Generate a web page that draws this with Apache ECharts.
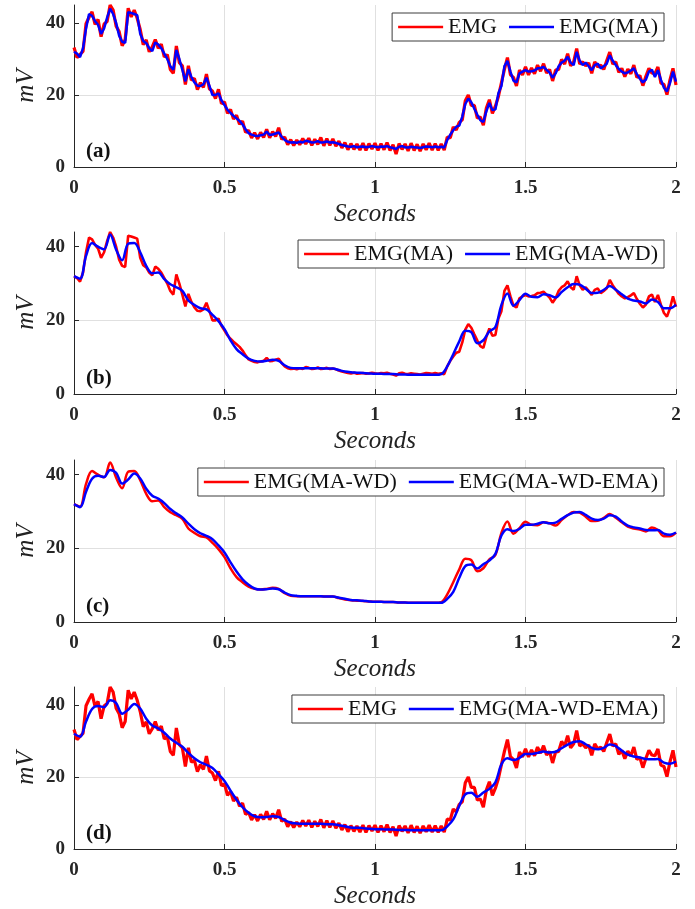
<!DOCTYPE html>
<html>
<head>
<meta charset="utf-8">
<script src="https://cdn.jsdelivr.net/npm/echarts@6/dist/echarts.min.js"></script>
<style>
  html, body { margin: 0; padding: 0; background: #fff; }
  .panel { position: absolute; left: 0; width: 695px; height: 227px; }
</style>
</head>
<body>
<div id="pa" class="panel" style="top:0"></div>
<div id="pb" class="panel" style="top:227px"></div>
<div id="pc" class="panel" style="top:455px"></div>
<div id="pd" class="panel" style="top:682px"></div>
<script>
// raw EMG, sampled every 0.01 s (0 .. 2 s)
const emg = [
  33.2, 30.4, 31.3, 32.1, 39.8, 41.6, 43.1, 39.6, 41.0, 36.2,
  39.7, 40.4, 45.0, 43.6, 39.1, 37.6, 33.7, 35.4, 44.1, 41.7,
  43.6, 41.3, 38.2, 34.0, 35.3, 32.0, 33.4, 35.4, 33.0, 34.1,
  30.6, 31.2, 27.1, 26.0, 33.6, 29.0, 28.1, 22.9, 28.1, 24.1,
  24.6, 21.5, 23.4, 22.1, 25.8, 21.7, 21.1, 19.0, 21.6, 17.6,
  18.1, 14.9, 16.0, 13.3, 14.4, 11.9, 12.7, 9.6, 10.2, 8.1,
  9.5, 7.8, 9.6, 8.2, 10.5, 8.1, 9.8, 8.5, 10.9, 7.7,
  8.3, 6.2, 7.6, 6.0, 7.5, 6.2, 7.9, 6.4, 8.0, 6.0,
  7.7, 6.3, 8.2, 5.9, 7.9, 6.0, 7.8, 5.8, 7.2, 5.3,
  6.8, 4.8, 6.5, 4.9, 6.4, 4.7, 6.6, 4.6, 6.5, 5.0,
  6.6, 4.6, 6.5, 4.8, 6.8, 4.6, 6.2, 3.6, 6.5, 4.9,
  6.4, 4.5, 6.6, 4.6, 6.3, 4.4, 6.4, 4.8, 6.6, 4.7,
  6.5, 4.6, 6.4, 4.7, 8.3, 8.1, 11.1, 10.3, 12.4, 13.1,
  18.4, 20.0, 17.1, 17.1, 13.6, 13.9, 11.6, 16.4, 18.7, 14.9,
  16.9, 19.6, 23.4, 27.1, 30.4, 25.6, 24.9, 22.5, 26.9, 25.6,
  27.8, 25.6, 27.5, 25.9, 28.3, 26.6, 28.7, 26.1, 27.1, 23.9,
  26.9, 27.1, 29.9, 28.6, 31.5, 28.1, 29.2, 32.9, 28.6, 29.2,
  28.1, 28.9, 26.0, 29.2, 27.8, 28.3, 27.1, 29.6, 31.9, 28.6,
  29.2, 26.3, 27.4, 25.1, 27.2, 25.9, 28.3, 24.9, 25.4, 22.6,
  25.2, 27.4, 26.1, 25.9, 27.8, 23.3, 22.9, 20.1, 24.2, 27.4,
  22.8
]

// moving average, every 0.01 s
const emgMA = [
  32, 31.5, 30.5, 33, 38.5, 42.5, 42, 40.5, 39.5, 37,
  38.5, 41.5, 44, 42.5, 40, 36.5, 34.8, 34.5, 43, 42.8,
  42.5, 42.2, 37, 35, 34.4, 33, 32.2, 34.6, 34, 33,
  31.5, 30, 28, 27, 32.5, 30, 27, 23.8, 27.2, 25,
  23.5, 22.6, 22.5, 23, 24.8, 22.5, 20, 20, 20.5, 18.5,
  17.2, 15.9, 15, 14.2, 13.5, 12.8, 11.8, 10.5, 9.4, 9,
  8.7, 8.6, 8.8, 9, 9.8, 8.9, 9, 9.3, 9.6, 8.4,
  7.5, 7, 6.8, 6.9, 6.7, 7, 6.8, 7.3, 7.1, 6.8,
  6.9, 7.2, 6.8, 6.9, 7.1, 6.8, 6.9, 6.7, 6.4, 6.1,
  5.9, 5.7, 5.6, 5.8, 5.5, 5.6, 5.7, 5.5, 5.6, 5.8,
  5.6, 5.5, 5.7, 5.6, 5.8, 5.5, 5.3, 5.0, 5.6, 5.8,
  5.5, 5.4, 5.6, 5.5, 5.4, 5.3, 5.5, 5.7, 5.6, 5.5,
  5.7, 5.5, 5.6, 5.4, 7.5, 9, 10.2, 11.2, 11.5, 14,
  17.5, 19, 18, 16.2, 14.5, 13, 12.5, 15.5, 17.8, 15.8,
  16, 20.5, 22.5, 28, 29.5, 26.5, 24, 23.5, 26, 26.5,
  26.9, 26.5, 26.6, 26.8, 27.4, 27.5, 27.8, 27, 26.2, 24.8,
  26, 28, 29, 29.5, 30.6, 29, 28.3, 32, 29.5, 28.3,
  29, 28, 26.9, 28.3, 28.7, 27.4, 28, 28.7, 31, 29.5,
  28.3, 27.2, 26.5, 26, 26.3, 26.8, 27.4, 25.8, 24.5, 23.5,
  24.3, 26.5, 27, 25, 26.9, 24.2, 22, 21, 23.3, 26.5,
  23.7
]

// MA + wavelet denoising, every 0.02 s
const emgWD = [
  32, 31.3, 37.5, 41, 40, 39.3, 43.3, 39.2, 36.3, 40.8,
  41, 38.5, 34.8, 32.8, 33, 31.2, 29.8, 29, 28, 25.4,
  24.2, 23.3, 23, 21.5, 19.8, 17.6, 14.6, 12.2, 10.8, 9.6,
  9, 8.8, 9, 9.3, 9, 7.8, 7.1, 7, 7, 7,
  7, 7, 6.9, 6.9, 6.5, 6.1, 5.9, 5.8, 5.7, 5.6,
  5.5, 5.5, 5.4, 5.4, 5.3, 5.3, 5.2, 5.2, 5.2, 5.2,
  5.2, 5.4, 7.5, 10.8, 14.3, 17.2, 16.8, 13.8, 14.6, 17,
  18.2, 24.2, 27.3, 24, 25.5, 27.2, 26.4, 26.3, 27.1, 26.8,
  26.2, 27.7, 29, 29.9, 29.7, 28.6, 27.4, 27.5, 28.3, 29.3,
  28.3, 27.1, 25.9, 25.4, 25.1, 24.6, 25.7, 25, 23.3, 23.3,
  24.3
]

// MA + WD + exponential moving average, every 0.02 s
const emgEMA = [
  32, 31.2, 35.4, 38.9, 39.7, 39.4, 41.3, 40.5, 37.6, 38.7,
  40.3, 39, 36.2, 34.3, 33.5, 32.3, 30.7, 29.5, 28.4, 26.7,
  25.2, 24.1, 23.4, 22.5, 20.8, 18.9, 16.2, 13.7, 11.6, 10.1,
  9.1, 8.8, 8.9, 9.1, 8.9, 8, 7.3, 7.1, 7, 7,
  7, 7, 6.9, 6.9, 6.6, 6.3, 6.0, 5.9, 5.8, 5.6,
  5.5, 5.5, 5.4, 5.4, 5.3, 5.3, 5.2, 5.2, 5.2, 5.2,
  5.2, 5.2, 6.3, 8.2, 12, 15.2, 15.6, 14.5, 15.7, 16.7,
  18.5, 23.5, 25.2, 24.7, 25.3, 26.4, 26.4, 26.7, 27.1, 26.8,
  27, 28, 29, 29.7, 29.9, 29.1, 28.1, 27.7, 28.1, 29,
  28.6, 27.3, 26.2, 25.7, 25.4, 25, 24.9, 25, 24, 23.7,
  24.3
]

const xTicks = [0, 0.5, 1, 1.5, 2]
const yTicks = [0, 20, 40]

const FONT = "'Liberation Serif', 'Times New Roman', serif"
const INK = '#262626'
const GRID = '#e0e0e0'
const RED = '#ff0000'
const BLUE = '#0000ff'

function withTime (values, step) {
  return values.map((v, i) => [Math.round(i * step * 1000) / 1000, v])
}

function drawPanel (id, tag, yMax, lines) {
  const chart = echarts.init(document.getElementById(id))
  const option = {
    animation: false,
    grid: { left: 74, top: 5, width: 602, height: 162, outerBoundsMode: 'none', containLabel: false },
    title: {
      text: tag, left: 86, top: 141, padding: 0,
      textStyle: { fontFamily: FONT, fontWeight: 'bold', fontSize: 21, color: '#111' }
    },
    legend: {
      right: 31, top: 13, padding: [3, 6], itemGap: 12,
      icon: 'rect', itemWidth: 45, itemHeight: 2.5,
      borderColor: '#3c3c3c', borderWidth: 1, backgroundColor: '#fff',
      textStyle: { fontFamily: FONT, fontSize: 22, color: '#111' },
      data: lines.map(l => l.name)
    },
    xAxis: {
      type: 'value', min: 0, max: 2, interval: 0.5,
      name: 'Seconds', nameLocation: 'middle', nameGap: 35, nameMoveOverlap: false,
      nameTextStyle: { fontFamily: FONT, fontStyle: 'italic', fontSize: 25, color: '#222' },
      axisLine: { lineStyle: { color: INK } },
      axisTick: { inside: true, length: 5, lineStyle: { color: INK } },
      axisLabel: { margin: 12, fontFamily: FONT, fontWeight: 'bold', fontSize: 19, color: INK, customValues: xTicks },
      splitLine: { show: true, showMaxLine: true, lineStyle: { color: GRID } }
    },
    yAxis: {
      type: 'value', min: 0, max: yMax, interval: 20,
      name: 'mV', nameLocation: 'middle', nameGap: 35, nameMoveOverlap: false,
      nameTextStyle: { fontFamily: FONT, fontStyle: 'italic', fontSize: 25, color: '#222' },
      axisLine: { show: true, lineStyle: { color: INK } },
      axisTick: { show: true, inside: true, length: 5, lineStyle: { color: INK }, customValues: yTicks },
      axisLabel: { margin: 9, fontFamily: FONT, fontWeight: 'bold', fontSize: 19, color: INK, customValues: yTicks },
      splitLine: { show: true, showMaxLine: false, lineStyle: { color: GRID } }
    },
    series: lines.map(l => ({
      type: 'line',
      name: l.name,
      data: l.data,
      symbol: 'none',
      smooth: l.smooth || false,
      lineStyle: { color: l.color, width: l.width },
      itemStyle: { color: l.color }
    }))
  }
  chart.setOption(option)
}

drawPanel('pa', '(a)', 45, [
  { name: 'EMG', data: withTime(emg, 0.01), color: RED, width: 3.2 },
  { name: 'EMG(MA)', data: withTime(emgMA, 0.01), color: BLUE, width: 2.5 }
])
drawPanel('pb', '(b)', 44, [
  { name: 'EMG(MA)', data: withTime(emgMA, 0.01), color: RED, width: 2.6 },
  { name: 'EMG(MA-WD)', data: withTime(emgWD, 0.02), color: BLUE, width: 2.5, smooth: 0.35 }
])
drawPanel('pc', '(c)', 44, [
  { name: 'EMG(MA-WD)', data: withTime(emgWD, 0.02), color: RED, width: 2.5, smooth: 0.35 },
  { name: 'EMG(MA-WD-EMA)', data: withTime(emgEMA, 0.02), color: BLUE, width: 2.5, smooth: 0.35 }
])
drawPanel('pd', '(d)', 45, [
  { name: 'EMG', data: withTime(emg, 0.01), color: RED, width: 3.2 },
  { name: 'EMG(MA-WD-EMA)', data: withTime(emgEMA, 0.02), color: BLUE, width: 2.5, smooth: 0.35 }
])
</script>
</body>
</html>
